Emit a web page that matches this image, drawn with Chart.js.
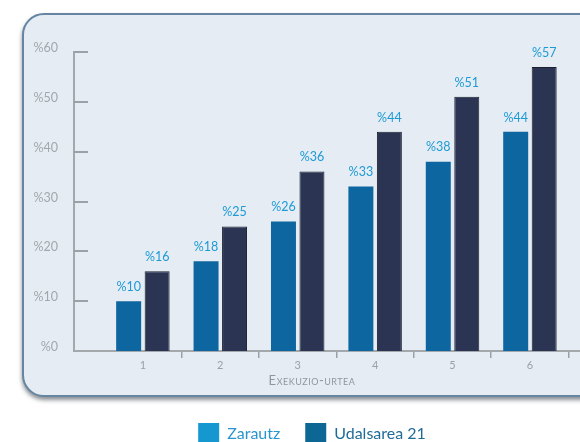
<!DOCTYPE html>
<html>
<head>
<meta charset="utf-8">
<script src="https://cdn.jsdelivr.net/npm/chart.js@4/dist/chart.umd.min.js"></script>
<style>
  html, body { margin: 0; padding: 0; background: #ffffff; width: 580px; height: 442px; overflow: hidden; }
  #wrap { position: relative; width: 580px; height: 442px; overflow: hidden; }
  #panel { position: absolute; left: 22px; top: 13px; width: 700px; height: 380px;
           background: #e5ecf3; border: 2px solid #6585a1; border-radius: 22px;
           box-shadow: 0 3px 4px rgba(40,50,60,0.55); }
  #c { position: absolute; left: 0; top: 0; }
</style>
</head>
<body>
<div id="wrap">
  <div id="panel"></div>
  <canvas id="c" width="624" height="454"></canvas>
</div>
<script>
// ---- data ----
const years = [1, 2, 3, 4, 5, 6];
const zarautz = [10, 18, 26, 33, 38, 44];
const udalsarea = [16, 25, 36, 44, 51, 57];
const seriesNames = ['Zarautz', 'Udalsarea 21'];
const yTicks = [0, 10, 20, 30, 40, 50, 60];
const axisTitle = 'Exekuzio-urtea';

const FONT = 'Lato';
const barColors = ['#0d66a0', '#2b3553'];
const legendColors = ['#1597cf', '#0d6794'];
const legendText = ['#2a94cc', '#216c97'];
const labelColor = '#1c9ad6';
const gridGray = '#a3a8ad';

const innerTicks = {
  id: 'innerTicks',
  afterDraw(chart) {
    const y = chart.scales.y, ca = chart.chartArea, ctx = chart.ctx;
    ctx.save();
    ctx.strokeStyle = '#9ca1a6';
    ctx.lineWidth = 2;
    y.ticks.forEach(t => {
      if (t.value === 0) return;
      const py = Math.round(y.getPixelForValue(t.value));
      ctx.beginPath();
      ctx.moveTo(ca.left, py);
      ctx.lineTo(ca.left + 14, py);
      ctx.stroke();
    });
    ctx.restore();
  }
};

const valueLabels = {
  id: 'valueLabels',
  afterDatasetsDraw(chart) {
    const ctx = chart.ctx;
    ctx.save();
    ctx.font = '12.5px ' + FONT;
    ctx.fillStyle = labelColor;
    ctx.textAlign = 'center';
    ctx.textBaseline = 'bottom';
    chart.data.datasets.forEach((ds, di) => {
      const meta = chart.getDatasetMeta(di);
      meta.data.forEach((el, i) => {
        ctx.fillText('%' + ds.data[i].y, el.x, el.y - 8);
      });
    });
    ctx.restore();
  }
};

const xTitle = {
  id: 'xTitle',
  afterDraw(chart) {
    const ctx = chart.ctx;
    ctx.save();
    ctx.font = '13px ' + FONT;
    ctx.fontVariantCaps = 'small-caps';
    ctx.letterSpacing = '0.5px';
    ctx.fillStyle = '#8f979e';
    ctx.textAlign = 'center';
    ctx.textBaseline = 'middle';
    ctx.fillText(axisTitle, chart.width / 2, 381);
    ctx.restore();
  }
};

new Chart(document.getElementById('c'), {
  type: 'bar',
  data: {
    datasets: [
      { label: seriesNames[0], data: years.map((x, i) => ({ x, y: zarautz[i] })),
        backgroundColor: barColors[0], borderWidth: 0 },
      { label: seriesNames[1], data: years.map((x, i) => ({ x, y: udalsarea[i] })),
        backgroundColor: barColors[1], borderColor: '#1b2130', borderWidth: 1, borderSkipped: 'bottom' }
    ]
  },
  options: {
    responsive: false,
    animation: false,
    devicePixelRatio: 1,
    datasets: { bar: { categoryPercentage: 0.736, barPercentage: 0.877 } },
    layout: { padding: { top: 52, left: 0, right: 0, bottom: 0 } },
    plugins: {
      tooltip: { enabled: false },
      legend: {
        position: 'bottom',
        labels: {
          boxWidth: 21, boxHeight: 21, padding: 25,
          font: { family: FONT, size: 16 },
          generateLabels: (chart) => seriesNames.map((n, i) => ({
            text: n, fillStyle: legendColors[i], strokeStyle: legendColors[i], lineWidth: 0,
            fontColor: legendText[i], hidden: false, datasetIndex: i
          }))
        }
      }
    },
    scales: {
      x: {
        type: 'linear', offset: false, min: 0.11, max: 7.215,
        afterBuildTicks: (s) => { s.ticks = years.map(v => ({ value: v })); },
        afterFit: (s) => { s.height = 47; },
        ticks: { color: '#9aa0a6', font: { family: FONT, size: 11 }, padding: 1,
                 callback: (v) => String(v), maxRotation: 0, autoSkip: false },
        grid: { display: true, offset: true, drawOnChartArea: false, drawTicks: true, tickLength: 7,
                lineWidth: 1.5,
                color: (c) => c.index === 0 ? 'rgba(0,0,0,0)' : '#9ca1a6' },
        border: { display: true, color: gridGray, width: 2 }
      },
      y: {
        min: 0, max: 60,
        afterBuildTicks: (s) => { s.ticks = yTicks.map(v => ({ value: v })); },
        afterFit: (s) => { s.width = 74; },
        ticks: { color: '#a2a7ac', font: { family: FONT, size: 12.5 }, padding: 16, labelOffset: -4,
                 callback: (v) => '%' + v },
        grid: { display: false, drawTicks: false },
        border: { display: true, color: gridGray, width: 2 }
      }
    }
  },
  plugins: [innerTicks, valueLabels, xTitle]
});
</script>
</body>
</html>
